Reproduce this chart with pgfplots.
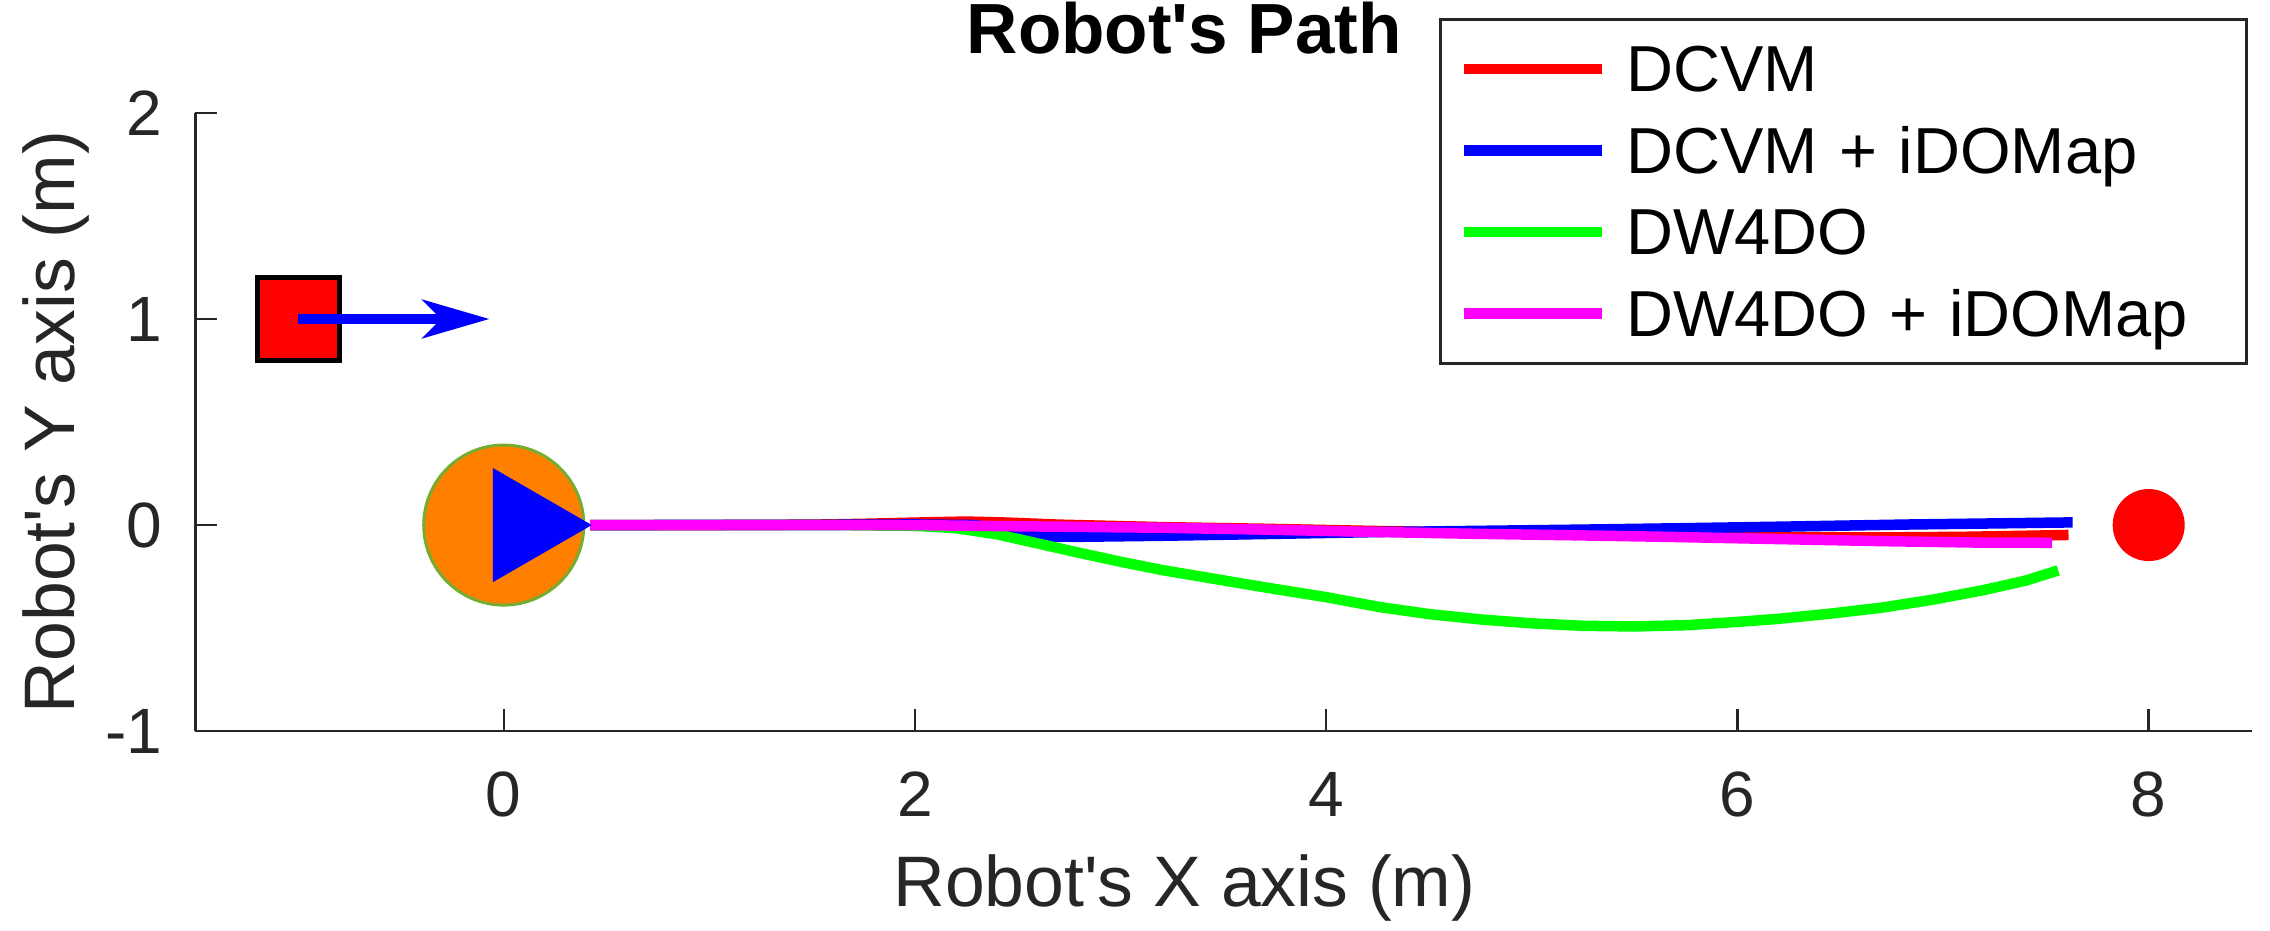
\documentclass[border=0pt]{standalone}
\usepackage{fontspec}
\setmainfont{Liberation Sans}
\usepackage{pgfplots}
\pgfplotsset{compat=1.18}
\usetikzlibrary{arrows.meta}
\definecolor{axgray}{HTML}{262626}
\definecolor{robotorange}{HTML}{FF8000}
\definecolor{robotedge}{HTML}{77AC30}
\definecolor{pathred}{RGB}{255,0,0}
\definecolor{pathblue}{RGB}{0,0,255}
\definecolor{pathgreen}{RGB}{0,255,0}
\definecolor{pathmag}{RGB}{255,0,255}

\begin{document}
\begin{tikzpicture}
\begin{axis}[
  scale only axis, width=411.1pt, height=123.6pt,
  xmin=-1.5, xmax=8.5, ymin=-1, ymax=2,
  clip=false,
  axis x line*=bottom, axis y line*=left,
  axis line style={axgray, line width=0.5pt},
  tick style={axgray, line width=0.5pt},
  tick align=inside, major tick length=4.4pt,
  xtick={0,2,4,6,8}, xticklabels={0,2,4,6,8},
  ytick={-1,0,1,2}, yticklabels={-1,0,1,2},
  x tick label style={font=\fontsize{12.8}{14}\selectfont, text=axgray, inner sep=0pt, anchor=base, yshift=-17pt},
  y tick label style={font=\fontsize{12.8}{14}\selectfont, text=axgray, inner sep=0pt, anchor=east, xshift=-6.4pt},
  xlabel={Robot\textquotesingle s X axis (m)},
  ylabel={Robot\textquotesingle s Y axis (m)},
  x label style={at={(rel axis cs:0.481,-0.283)}, anchor=base, inner sep=0pt, font=\fontsize{14.3}{16}\selectfont, text=axgray},
  y label style={at={(rel axis cs:-0.0586,0.5)}, anchor=base, inner sep=0pt, font=\fontsize{14.3}{16}\selectfont, text=axgray},
  title={Robot\textquotesingle s Path},
  title style={at={(rel axis cs:0.481,1.0476)}, anchor=base, inner sep=0pt, font=\bfseries\fontsize{14.2}{16}\selectfont},
  legend cell align=left,
  legend style={
    at={(rel axis cs:0.9985,1.1535)}, anchor=north east,
    draw=axgray, line width=0.6pt, fill=white,
    inner xsep=3.7pt, inner ysep=3.9pt,
    row sep=4.3pt, column sep=3.7pt,
    font=\fontsize{13}{15}\selectfont,
    nodes={inner sep=0pt, text height=10.5pt, text depth=1.5pt, text width=120.4pt, anchor=base west},
  },
  legend image code/.code={\draw[#1] (0pt,4.5pt) -- (27.6pt,4.5pt);},
]
% robot body and heading, obstacle with its velocity, goal
\addplot[robotedge, only marks, mark=*, mark size=16pt, mark options={fill=robotorange, line width=0.6pt}, forget plot] coordinates {(0,0)};
\addplot[pathblue, only marks, mark=triangle*, mark size=12.8pt, mark options={rotate=-90, fill=pathblue}, forget plot] coordinates {(0.107,0)};
\addplot[fill=pathred, draw=black, line width=1pt, forget plot] coordinates {(-1.2,0.8) (-1.2,1.2) (-0.8,1.2) (-0.8,0.8)} --cycle;
\addplot[pathblue, line width=1.9pt, -{Stealth[length=13.4pt, width=7.7pt, inset=3.8pt]}, forget plot] coordinates {(-1,1) (-0.07,1)};
\addplot[pathred, only marks, mark=*, mark size=7.0pt, mark options={fill=pathred}, forget plot] coordinates {(8,0)};

% paths
\addplot[pathred, line width=2.1pt, line join=round] coordinates {
(0.42,0) (1.0,0) (1.5,0.002) (1.75,0.006) (2.0,0.012) (2.25,0.017) (2.45,0.012)
(2.7,0.002) (3.2,-0.01) (3.7,-0.018) (4.2,-0.028) (4.7,-0.037) (5.2,-0.045)
(5.7,-0.052) (6.2,-0.058) (6.7,-0.06) (7.1,-0.057) (7.4,-0.052) (7.61,-0.048)};
\addlegendentry{DCVM}
\addplot[pathblue, line width=2.1pt, line join=round] coordinates {
(0.42,0) (1.5,0.001) (2.0,0.003) (2.3,0.0) (2.4,-0.025) (2.5,-0.048) (2.65,-0.056)
(2.8,-0.057) (3.2,-0.052) (3.5,-0.047) (3.85,-0.041) (4.25,-0.034) (4.75,-0.028)
(5.25,-0.022) (5.75,-0.015) (6.2,-0.008) (6.85,0.003) (7.25,0.008) (7.63,0.013)};
\addlegendentry{DCVM + iDOMap}
\addplot[pathgreen, line width=2.1pt, line join=round] coordinates {
(0.42,0) (1.6,0) (2.0,-0.004) (2.2,-0.015) (2.4,-0.045) (2.6,-0.09) (2.8,-0.135)
(3.0,-0.178) (3.2,-0.218) (3.45,-0.26) (3.7,-0.302) (4.0,-0.35) (4.26,-0.398)
(4.5,-0.432) (4.75,-0.458) (5.0,-0.477) (5.25,-0.489) (5.5,-0.492) (5.75,-0.486)
(6.0,-0.47) (6.2,-0.455) (6.45,-0.43) (6.7,-0.401) (6.95,-0.362) (7.2,-0.315)
(7.4,-0.27) (7.56,-0.22)};
\addlegendentry{DW4DO}
\addplot[pathmag, line width=2.1pt, line join=round] coordinates {
(0.42,0) (2.0,0) (2.22,-0.003) (2.7,-0.008) (3.2,-0.013) (3.7,-0.022) (4.21,-0.033)
(4.7,-0.042) (5.23,-0.05) (5.7,-0.058) (6.2,-0.068) (6.7,-0.078) (7.17,-0.085) (7.53,-0.086)};
\addlegendentry{DW4DO + iDOMap}

\coordinate (bbl) at (axis cs:-2.450,-1.966);
\coordinate (btr) at (axis cs:8.590,2.548);
\end{axis}
\pgfresetboundingbox
\path (bbl) rectangle (btr);
\end{tikzpicture}
\end{document}
